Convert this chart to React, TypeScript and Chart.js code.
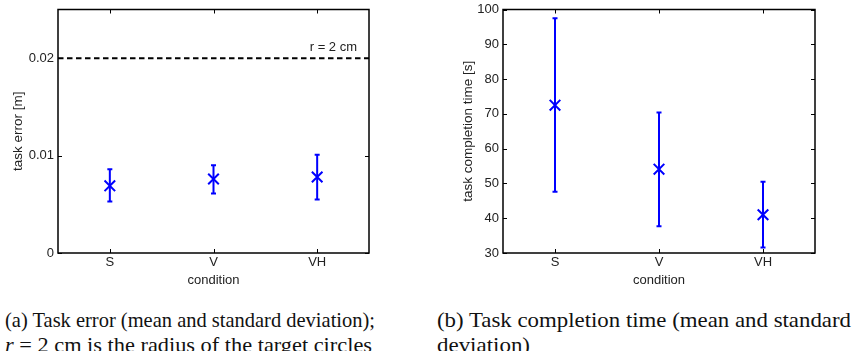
import React, { useEffect, useLayoutEffect, useRef } from 'react';
import { Chart, registerables } from 'chart.js';

Chart.register(...registerables);

// ---- data ----
const categories = ['S', 'V', 'VH'];

const errorMean = [0.0069, 0.0076, 0.0078];
const errorLow = [0.0053, 0.0061, 0.0055];
const errorHigh = [0.0086, 0.009, 0.0101];
const errorTicks = [0, 0.01, 0.02];
const targetRadius = 0.02;
const targetLabel = 'r = 2 cm';

const timeMean = [72.5, 54.1, 41.0];
const timeLow = [47.6, 37.7, 31.6];
const timeHigh = [97.5, 70.4, 50.5];
const timeTicks = [30, 40, 50, 60, 70, 80, 90, 100];

const BLUE = '#0000ff';
const TEXT = '#222222';
const SANS = '"Liberation Sans", Arial, Helvetica, sans-serif';

const framePlugin = {
  id: 'framePlugin',
  afterDraw(chart: any) {
    const { ctx, chartArea: a, scales } = chart;
    const xs = scales.x;
    const ys = scales.y;
    ctx.save();
    ctx.strokeStyle = '#000';
    ctx.lineWidth = 1;
    const L = 4;
    ctx.beginPath();
    xs.ticks.forEach((_t: any, i: number) => {
      const px = Math.round(xs.getPixelForTick(i)) + 0.5;
      ctx.moveTo(px, a.bottom);
      ctx.lineTo(px, a.bottom - L);
      ctx.moveTo(px, a.top);
      ctx.lineTo(px, a.top + L);
    });
    ys.ticks.forEach((t: any) => {
      const py = Math.round(ys.getPixelForValue(t.value)) + 0.5;
      ctx.moveTo(a.left, py);
      ctx.lineTo(a.left + L, py);
      ctx.moveTo(a.right, py);
      ctx.lineTo(a.right - L, py);
    });
    ctx.stroke();
    ctx.lineWidth = 1.5;
    ctx.strokeRect(a.left, a.top, a.right - a.left, a.bottom - a.top);
    ctx.restore();
  },
};

const errorBarPlugin = {
  id: 'errorBars',
  beforeDatasetsDraw(chart: any, _args: any, opts: any) {
    const { ctx, scales } = chart;
    const xs = scales.x;
    const ys = scales.y;
    const low: number[] = opts.low || [];
    const high: number[] = opts.high || [];
    ctx.save();
    ctx.strokeStyle = BLUE;
    ctx.lineWidth = 2;
    const cap = 2.5;
    low.forEach((lo, i) => {
      const x = xs.getPixelForValue(i);
      const y1 = ys.getPixelForValue(lo);
      const y2 = ys.getPixelForValue(high[i]);
      ctx.beginPath();
      ctx.moveTo(x, y1);
      ctx.lineTo(x, y2);
      ctx.moveTo(x - cap, y1);
      ctx.lineTo(x + cap, y1);
      ctx.moveTo(x - cap, y2);
      ctx.lineTo(x + cap, y2);
      ctx.stroke();
    });
    ctx.restore();
  },
};

const refLinePlugin = {
  id: 'refLine',
  afterDatasetsDraw(chart: any, _args: any, opts: any) {
    if (opts.value === undefined || opts.value === null) return;
    const { ctx, chartArea: a, scales } = chart;
    const y = scales.y.getPixelForValue(opts.value);
    ctx.save();
    ctx.strokeStyle = '#000';
    ctx.lineWidth = 2;
    ctx.setLineDash([5.5, 3.5]);
    ctx.beginPath();
    ctx.moveTo(a.left, y);
    ctx.lineTo(a.right, y);
    ctx.stroke();
    ctx.setLineDash([]);
    ctx.fillStyle = TEXT;
    ctx.font = `13px ${SANS}`;
    ctx.textAlign = 'right';
    ctx.textBaseline = 'middle';
    ctx.fillText(opts.label, a.right - 12, y - 11);
    ctx.restore();
  },
};

type Props = {
  mean: number[];
  low: number[];
  high: number[];
  ticks: number[];
  min: number;
  max: number;
  yTitle: string;
  yAxisWidth: number;
  yTitlePad: number;
  padRight: number;
  padTop: number;
  width: number;
  height: number;
  refValue?: number;
  refLabel?: string;
};

function ErrorChart(p: Props) {
  const ref = useRef<HTMLCanvasElement | null>(null);
  useEffect(() => {
    if (!ref.current) return;
    const chart = new Chart(ref.current, {
      type: 'line',
      data: {
        labels: categories,
        datasets: [
          {
            data: p.mean,
            showLine: false,
            pointStyle: 'crossRot',
            pointRadius: 7.5,
            pointBorderWidth: 2,
            borderColor: BLUE,
            backgroundColor: BLUE,
            pointBorderColor: BLUE,
          },
        ],
      },
      options: {
        responsive: false,
        animation: false,
        events: [],
        layout: { padding: { left: 0, right: p.padRight, top: p.padTop, bottom: 0 } },
        plugins: {
          legend: { display: false },
          tooltip: { enabled: false },
          errorBars: { low: p.low, high: p.high },
          refLine: { value: p.refValue, label: p.refLabel },
        } as any,
        scales: {
          x: {
            type: 'category',
            offset: true,
            grid: { display: false, drawTicks: false },
            border: { display: false },
            ticks: {
              color: TEXT,
              font: { family: SANS, size: 13, lineHeight: 1.2 },
              padding: 2,
              maxRotation: 0,
            },
            title: {
              display: true,
              text: 'condition',
              color: TEXT,
              font: { family: SANS, size: 13, lineHeight: 1.2 },
              padding: { top: 0, bottom: 4 },
            },
            afterFit: (s: any) => {
              s.height = p.height - 253;
            },
          },
          y: {
            type: 'linear',
            min: p.min,
            max: p.max,
            grid: { display: false, drawTicks: false },
            border: { display: false },
            ticks: {
              color: TEXT,
              font: { family: SANS, size: 13, lineHeight: 0.2 },
              padding: 4,
              callback: (v: any) => String(v),
            },
            afterBuildTicks: (s: any) => {
              s.ticks = p.ticks.map((v) => ({ value: v }));
            },
            title: {
              display: true,
              text: p.yTitle,
              color: TEXT,
              font: { family: SANS, size: 13.5, lineHeight: 1.2 },
              padding: { top: p.yTitlePad, bottom: 0 },
            },
            afterFit: (s: any) => {
              s.width = p.yAxisWidth;
            },
          },
        },
      },
      plugins: [errorBarPlugin, refLinePlugin, framePlugin],
    });
    return () => chart.destroy();
  }, []);
  return <canvas ref={ref} width={p.width} height={p.height} style={{ display: 'block', width: p.width, height: p.height }} />;
}

// A caption line squeezed horizontally to the width it has in the reference.
function FitLine({ width, children }: { width: number; children: React.ReactNode }) {
  const ref = useRef<HTMLSpanElement | null>(null);
  useLayoutEffect(() => {
    const el = ref.current;
    if (!el) return;
    el.style.transform = 'none';
    const w = el.getBoundingClientRect().width;
    if (w > 0) el.style.transform = `scaleX(${width / w})`;
  }, [width]);
  return (
    <div style={{ height: 25 }}>
      <span ref={ref} style={{ display: 'inline-block', whiteSpace: 'nowrap', transformOrigin: 'left top' }}>
        {children}
      </span>
    </div>
  );
}

const captionStyle: React.CSSProperties = {
  position: 'absolute',
  fontFamily: '"Liberation Serif", "Times New Roman", Times, serif',
  fontSize: 22,
  lineHeight: '25px',
  color: '#111',
  whiteSpace: 'nowrap',
};

export default function App() {
  return (
    <div style={{ position: 'absolute', left: 0, top: 0, width: 855, height: 351, background: '#fff', overflow: 'hidden' }}>
      <div style={{ position: 'absolute', left: 0, top: 0 }}>
        <ErrorChart
          mean={errorMean}
          low={errorLow}
          high={errorHigh}
          ticks={errorTicks}
          min={0}
          max={0.025}
          yTitle="task error [m]"
          yAxisWidth={58}
          yTitlePad={10}
          padRight={51}
          padTop={7}
          width={420}
          height={292}
          refValue={targetRadius}
          refLabel={targetLabel}
        />
      </div>
      <div style={{ position: 'absolute', left: 420, top: 0 }}>
        <ErrorChart
          mean={timeMean}
          low={timeLow}
          high={timeHigh}
          ticks={timeTicks}
          min={30}
          max={100}
          yTitle="task completion time [s]"
          yAxisWidth={83}
          yTitlePad={40}
          padRight={40}
          padTop={7}
          width={435}
          height={292}
        />
      </div>
      <div style={{ ...captionStyle, left: 5, top: 307 }}>
        <FitLine width={370}>(a) Task error (mean and standard deviation);</FitLine>
        <FitLine width={367}>
          <i>r</i> = 2 cm is the radius of the target circles
        </FitLine>
      </div>
      <div style={{ ...captionStyle, left: 437, top: 307 }}>
        <FitLine width={414}>(b) Task completion time (mean and standard</FitLine>
        <FitLine width={93}>deviation)</FitLine>
      </div>
    </div>
  );
}
